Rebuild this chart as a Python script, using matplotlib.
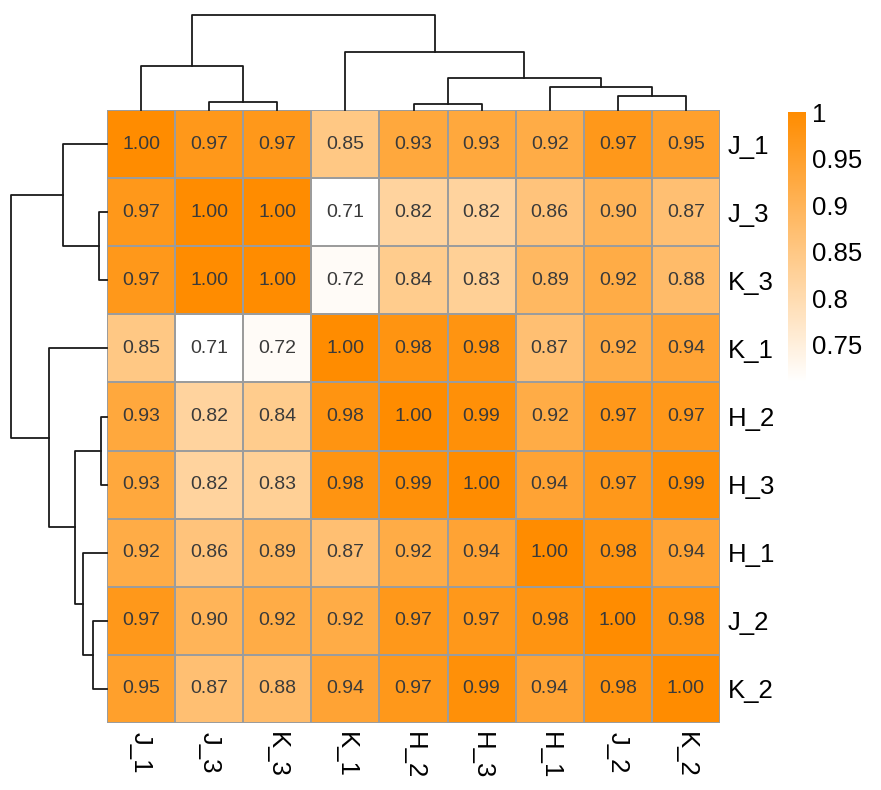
import numpy as np
import matplotlib
matplotlib.use("Agg")
import matplotlib.pyplot as plt
from matplotlib.colors import LinearSegmentedColormap

plt.rcParams['font.family'] = ['Liberation Sans', 'DejaVu Sans']

# sample labels in clustered order (same for rows and columns)
labels = ["J_1", "J_3", "K_3", "K_1", "H_2", "H_3", "H_1", "J_2", "K_2"]

# correlation matrix, rows/cols in the order above
corr = np.array([
    [1.00, 0.97, 0.97, 0.85, 0.93, 0.93, 0.92, 0.97, 0.95],
    [0.97, 1.00, 1.00, 0.71, 0.82, 0.82, 0.86, 0.90, 0.87],
    [0.97, 1.00, 1.00, 0.72, 0.84, 0.83, 0.89, 0.92, 0.88],
    [0.85, 0.71, 0.72, 1.00, 0.98, 0.98, 0.87, 0.92, 0.94],
    [0.93, 0.82, 0.84, 0.98, 1.00, 0.99, 0.92, 0.97, 0.97],
    [0.93, 0.82, 0.83, 0.98, 0.99, 1.00, 0.94, 0.97, 0.99],
    [0.92, 0.86, 0.89, 0.87, 0.92, 0.94, 1.00, 0.98, 0.94],
    [0.97, 0.90, 0.92, 0.92, 0.97, 0.97, 0.98, 1.00, 0.98],
    [0.95, 0.87, 0.88, 0.94, 0.97, 0.99, 0.94, 0.98, 1.00],
])

# tree merges: (left node, right node, height); new nodes numbered from 9
merges = [(1, 2, 8.3), (4, 5, 6.3), (7, 8, 13.7), (6, 11, 23.5),
          (10, 12, 32.0), (0, 9, 43.7), (3, 13, 58.3), (14, 15, 95.5)]

cbar_ticks = [0.75, 0.8, 0.85, 0.9, 0.95, 1.0]
cbar_labels = ["0.75", "0.8", "0.85", "0.9", "0.95", "1"]

W, H = 881, 790
fig = plt.figure(figsize=(W / 100, H / 100), dpi=100)

def px_axes(x0, y0, x1, y1):
    # pixel box (top-left origin) -> figure axes
    return fig.add_axes([x0 / W, 1 - y1 / H, (x1 - x0) / W, (y1 - y0) / H])

hx0, hy0, hx1, hy1 = 107, 110, 720, 723
ax = px_axes(hx0, hy0, hx1, hy1)

cmap = LinearSegmentedColormap.from_list("wo", ["#ffffff", "#ff8c00"])
n = len(labels)
mesh = ax.pcolormesh(np.arange(n + 1), np.arange(n + 1), corr, cmap=cmap,
                     vmin=0.71, vmax=1.0, edgecolors="#9c9c9c", linewidth=1.1)
ax.set_xlim(0, n)
ax.set_ylim(n, 0)
for i in range(n):
    for j in range(n):
        ax.text(j + 0.5, i + 0.5, f"{corr[i, j]:.2f}", ha="center", va="center",
                fontsize=14, color="#3a3a3a")

ax.set_xticks(np.arange(n) + 0.5)
ax.set_xticklabels(labels, rotation=270, fontsize=18.5)
ax.set_yticks(np.arange(n) + 0.5)
ax.set_yticklabels(labels, fontsize=18.5)
ax.yaxis.tick_right()
ax.tick_params(axis="x", length=0, pad=6.5)
ax.tick_params(axis="y", length=0, pad=5.5)
for s in ax.spines.values():
    s.set_visible(False)


def tree_coords():
    pos = {i: i + 0.5 for i in range(n)}
    hgt = {i: 0.0 for i in range(n)}
    segs = []
    for k, (a, b, h) in enumerate(merges):
        node = n + k
        segs.append(([pos[a], pos[a], pos[b], pos[b]], [hgt[a], h, h, hgt[b]]))
        pos[node] = (pos[a] + pos[b]) / 2
        hgt[node] = h
    return segs


segs = tree_coords()
root_h = merges[-1][2]

# column dendrogram (top)
axc = px_axes(hx0, hy0 - 95.3, hx1, hy0)
for xs, ys in segs:
    axc.plot(xs, ys, color="#1a1a1a", lw=1.3, clip_on=False)
axc.set_xlim(0, n)
axc.set_ylim(0, root_h)
axc.axis("off")

# row dendrogram (left)
axr = px_axes(hx0 - 95.7, hy0, hx0, hy1)
for xs, ys in segs:
    axr.plot(ys, xs, color="#1a1a1a", lw=1.3, clip_on=False)
axr.set_ylim(n, 0)
axr.set_xlim(root_h, 0)
axr.axis("off")

# colour bar
cax = px_axes(788, 112, 806, 382)
cb = fig.colorbar(mesh, cax=cax, ticks=cbar_ticks)
cb.ax.set_yticklabels(cbar_labels, fontsize=18.5)
cb.ax.tick_params(length=0, pad=4.5)
cb.outline.set_visible(False)

fig.savefig("out.png", dpi=100)
